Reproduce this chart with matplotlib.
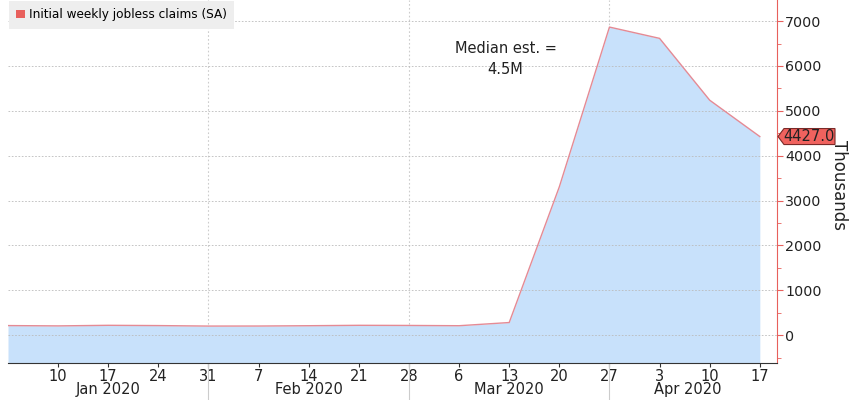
import matplotlib
matplotlib.use("Agg")
import matplotlib.pyplot as plt
import matplotlib.dates as mdates
import matplotlib.transforms as mtransforms
from matplotlib.patches import Polygon
import datetime as dt

# weekly initial jobless claims, thousands
dates = ["2020-01-03", "2020-01-10", "2020-01-17", "2020-01-24", "2020-01-31",
         "2020-02-07", "2020-02-14", "2020-02-21", "2020-02-28", "2020-03-06",
         "2020-03-13", "2020-03-20", "2020-03-27", "2020-04-03", "2020-04-10",
         "2020-04-17"]
claims = [214, 207, 220, 214, 203, 204, 211, 220, 217, 211, 282, 3307, 6867, 6615, 5237, 4427]

month_labels = ["Jan 2020", "Feb 2020", "Mar 2020", "Apr 2020"]
month_label_dates = ["2020-01-17", "2020-02-14", "2020-03-13", "2020-04-07"]
month_sep_dates = ["2020-01-31", "2020-02-28", "2020-03-27"]

x = [dt.datetime.strptime(d, "%Y-%m-%d") for d in dates]
last = claims[-1]

red = "#e8605c"
line_col = "#e58a94"
fill_col = "#c8e1fb"

fig = plt.figure(figsize=(8.5, 4), dpi=100)
ax = fig.add_axes([8 / 850, 37 / 400, 769 / 850, 363 / 400])

ymin, ymax = -620, 7470
ax.fill_between(x, claims, ymin, color=fill_col, linewidth=0)
ax.plot(x, claims, color=line_col, linewidth=1)

ax.set_xlim(x[0], x[-1] + dt.timedelta(days=2.4))
ax.set_ylim(ymin, ymax)

# right-hand y axis
ax.yaxis.tick_right()
ax.set_yticks(range(0, 8000, 1000))
ax.set_yticks(range(-500, 7500, 500), minor=True)
ax.tick_params(axis="y", which="both", colors=red, labelcolor="#222222",
               labelsize=10.3, pad=2)
ax.tick_params(axis="y", which="major", length=4)
ax.tick_params(axis="y", which="minor", length=3)
for s in ["top", "left"]:
    ax.spines[s].set_visible(False)
ax.spines["right"].set_color(red)
ax.spines["bottom"].set_color("#333333")

ax.set_xticks(x[1:])
ax.xaxis.set_major_formatter(mdates.DateFormatter("%-d"))
ax.tick_params(axis="x", length=3, labelsize=10.5, pad=1, colors="#333333",
               labelcolor="#222222")

ax.grid(axis="y", color="#bbbbbb", linestyle=(0, (2, 2)), linewidth=0.6)
trans = mtransforms.blended_transform_factory(ax.transData, ax.transAxes)
for d in month_sep_dates:
    xd = dt.datetime.strptime(d, "%Y-%m-%d")
    ax.plot([xd, xd], [0, 1], transform=trans, color="#cccccc",
            linestyle=(0, (1.5, 2)), linewidth=0.8, zorder=0.5)
    ax.plot([xd, xd], [0, -0.11], transform=trans, color="#cccccc",
            linewidth=0.8, clip_on=False)

for lab, d in zip(month_labels, month_label_dates):
    ax.text(dt.datetime.strptime(d, "%Y-%m-%d"), -0.074, lab, transform=trans,
            ha="center", va="center", fontsize=10.5, color="#222222")

# last value marker box (pentagon pointing at the axis)
tip_y = ax.transData.transform((mdates.date2num(x[-1]), last))[1]
tip_x = ax.transAxes.transform((1.0, 0))[0] + 1
w, h, dpt = 57, 8, 6
verts = [(tip_x, tip_y), (tip_x + dpt, tip_y + h), (tip_x + w, tip_y + h),
         (tip_x + w, tip_y - h), (tip_x + dpt, tip_y - h)]
fig.patches.append(Polygon(verts, closed=True, fc="#f0625e", ec="#7a2a28", lw=0.8,
                           transform=mtransforms.IdentityTransform(), figure=fig))
fig.text((tip_x + dpt / 2 + w / 2) / 850, tip_y / 400, f"{last:.1f}", ha="center",
         va="center", fontsize=10.5, color="#222222")

ax.text(1.081, 0.49, "Thousands", transform=ax.transAxes, rotation=270,
        ha="center", va="center", fontsize=12, color="#222222")

ax.text(dt.datetime(2020, 3, 12, 12), 5750, "Median est. =\n4.5M", ha="center",
        va="bottom", fontsize=10.5, color="#222222", linespacing=1.5)

# legend box
leg = ax.legend([plt.Rectangle((0, 0), 1, 1, fc=red, ec="none")],
                ["Initial weekly jobless claims (SA)"], loc="upper left",
                bbox_to_anchor=(0.0, 1.0), fontsize=8.7, frameon=True,
                fancybox=False, handlelength=0.7, handleheight=0.7,
                handletextpad=0.3, borderpad=0.6, borderaxespad=0.1)
leg.get_frame().set_facecolor("#eeeeee")
leg.get_frame().set_edgecolor("none")
leg.get_frame().set_alpha(1)

fig.savefig("out.png", dpi=100)
